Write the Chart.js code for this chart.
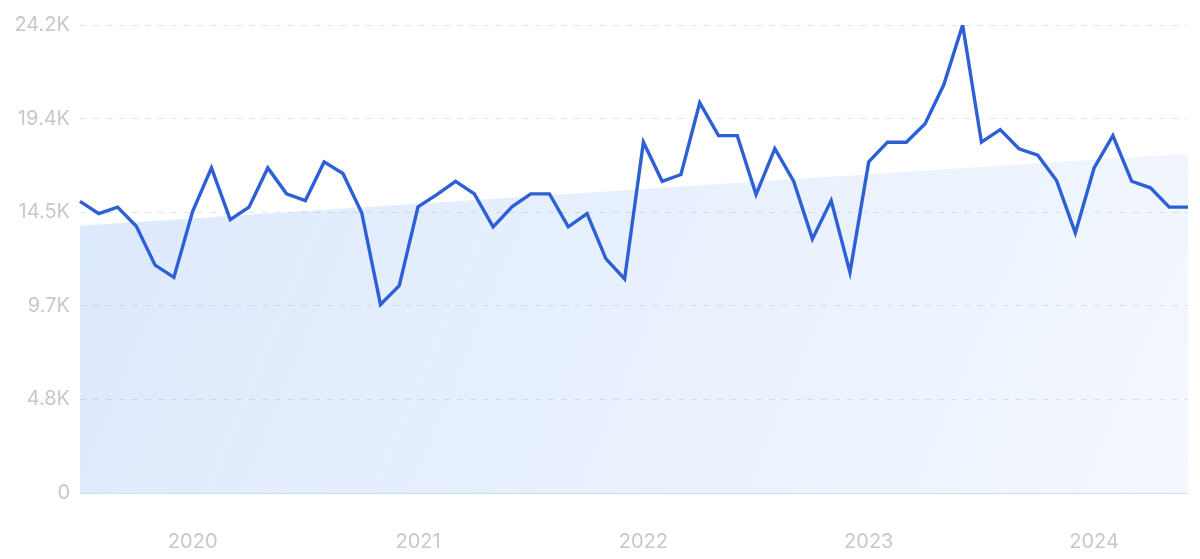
<!DOCTYPE html>
<html>
<head>
<meta charset="utf-8">
<script src="https://cdn.jsdelivr.net/npm/chart.js@4"></script>
<style>
  html, body { margin: 0; padding: 0; background: #fff; }
  #wrap { width: 1200px; height: 559px; }
</style>
</head>
<body>
<div id="wrap"><canvas id="trendChart"></canvas></div>
<script>
// meses jul 2019 - jun 2024
const months = [
  '2019-07','2019-08','2019-09','2019-10','2019-11','2019-12',
  '2020-01','2020-02','2020-03','2020-04','2020-05','2020-06','2020-07','2020-08','2020-09','2020-10','2020-11','2020-12',
  '2021-01','2021-02','2021-03','2021-04','2021-05','2021-06','2021-07','2021-08','2021-09','2021-10','2021-11','2021-12',
  '2022-01','2022-02','2022-03','2022-04','2022-05','2022-06','2022-07','2022-08','2022-09','2022-10','2022-11','2022-12',
  '2023-01','2023-02','2023-03','2023-04','2023-05','2023-06','2023-07','2023-08','2023-09','2023-10','2023-11','2023-12',
  '2024-01','2024-02','2024-03','2024-04','2024-05','2024-06'
];

// volumen de busqueda
const volume = [
  15080, 14450, 14780, 13790, 11780, 11150,
  14570, 16810, 14140, 14780, 16810, 15470, 15120, 17120, 16520, 14490, 9750, 10720,
  14800, 15430, 16120, 15470, 13760, 14800, 15470, 15470, 13760, 14450, 12120, 11070,
  18140, 16120, 16470, 20180, 18480, 18480, 15430, 17810, 16120, 13140, 15120, 11410,
  17120, 18140, 18140, 19100, 21120, 24200, 18140, 18790, 17800, 17470, 16160, 13450,
  16810, 18480, 16120, 15780, 14780, 14780
];

// linea de tendencia (inicio y fin)
const trendStart = 13820;
const trendEnd = 17550;

const yTicks = [0, 4840, 9680, 14520, 19360, 24200];

const fmtK = (v) => v === 0 ? '0' : (v / 1000).toFixed(1) + 'K';

const fillGradient = (context) => {
  const { ctx, chartArea } = context.chart;
  if (!chartArea) return 'rgba(60,130,240,0.15)';
  const g = ctx.createLinearGradient(chartArea.left, chartArea.top, chartArea.right, chartArea.bottom);
  g.addColorStop(0, 'rgba(60,130,240,0.18)');
  g.addColorStop(1, 'rgba(60,130,240,0.06)');
  return g;
};

// linea base solida en 0
const baseLine = {
  id: 'baseLine',
  afterDatasetsDraw: (chart) => {
    const { ctx, chartArea, scales } = chart;
    const y = Math.round(scales.y.getPixelForValue(0)) + 0.5;
    ctx.save();
    ctx.strokeStyle = '#cddff6';
    ctx.lineWidth = 1;
    ctx.beginPath();
    ctx.moveTo(chartArea.left, y);
    ctx.lineTo(chartArea.right, y);
    ctx.stroke();
    ctx.restore();
  },
};

const ctx = document.getElementById('trendChart').getContext('2d');
new Chart(ctx, {
  type: 'line',
  data: {
    labels: months,
    datasets: [
      {
        label: 'volumen',
        data: volume,
        borderColor: '#2d5fd5',
        borderWidth: 3.4,
        pointRadius: 0,
        tension: 0,
        fill: false,
        order: 1,
      },
      {
        label: 'tendencia',
        data: [
          { x: months[0], y: trendStart },
          { x: months[months.length - 1], y: trendEnd },
        ],
        borderWidth: 0,
        borderColor: 'rgba(0,0,0,0)',
        pointRadius: 0,
        fill: 'origin',
        backgroundColor: fillGradient,
        order: 2,
      }
    ],
  },
  options: {
    responsive: true,
    maintainAspectRatio: false,
    animation: false,
    layout: { padding: { top: 25, right: 12, bottom: 0, left: 0 } },
    plugins: {
      legend: { display: false },
      tooltip: { enabled: false },
    },
    scales: {
      x: {
        offset: false,
        grid: { display: false, drawTicks: false },
        border: { display: false },
        ticks: {
          autoSkip: false,
          maxRotation: 0,
          padding: 37,
          color: '#c6c8ce',
          font: { family: 'Inter', size: 20 },
          callback: function (value, index) {
            const m = months[index];
            return m.endsWith('-01') ? m.slice(0, 4) : null;
          },
        },
        afterFit: (scale) => { scale.height = 66; },
      },
      y: {
        min: 0,
        max: 24200,
        afterBuildTicks: (scale) => { scale.ticks = yTicks.map((v) => ({ value: v })); },
        grid: {
          drawTicks: false,
          color: (c) => c.tick.value === 0 ? 'rgba(0,0,0,0)' : '#dfe6f0',
          lineWidth: 1,
        },
        border: { display: false, dash: [6, 7] },
        ticks: {
          padding: 10,
          color: '#c6c8ce',
          font: { family: 'Inter', size: 20 },
          callback: (v) => fmtK(v),
        },
        afterFit: (scale) => { scale.width = 80; },
      },
    },
  },
  plugins: [baseLine],
});
</script>
</body>
</html>
